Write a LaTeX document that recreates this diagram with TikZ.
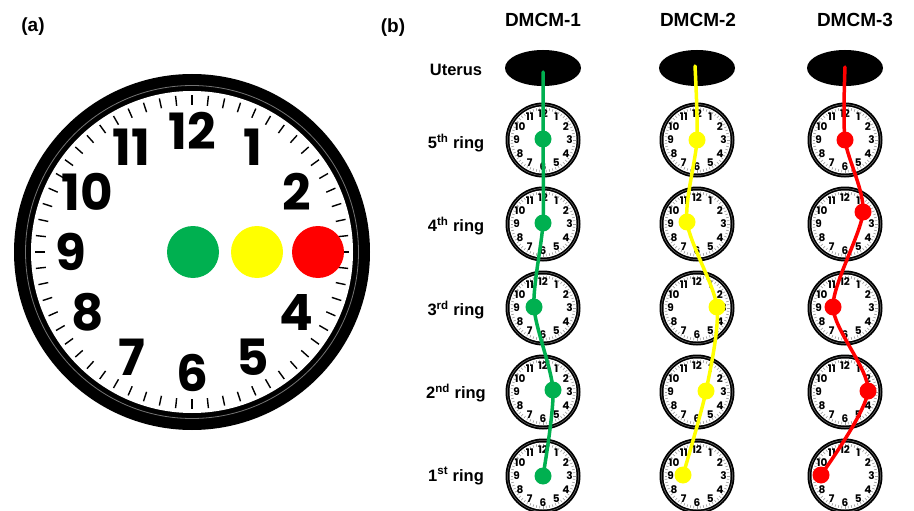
\documentclass[tikz,border=0pt]{standalone}
\usepackage{fontspec}
\setmainfont{Liberation Sans}
\newfontfamily\dialfont{Poppins}
\usetikzlibrary{shapes.geometric}
\definecolor{dmgreen}{HTML}{00B050}
\definecolor{dmyellow}{HTML}{FFFF00}
\definecolor{dmred}{HTML}{FF0000}
\tikzset{
  panel/.style={font=\bfseries\fontsize{19}{19}\selectfont, inner sep=0},
  head/.style={font=\bfseries\fontsize{19}{19}\selectfont, inner sep=0},
  rowlabel/.style={font=\bfseries\fontsize{16.5}{16.5}\selectfont, inner sep=0},
  bignum/.style={font=\dialfont\bfseries\fontsize{50}{50}\selectfont, inner sep=0},
  smallnum/.style={font=\dialfont\bfseries\fontsize{10.5}{10.5}\selectfont, inner sep=0},
  bigdot/.style={circle, inner sep=0, minimum size=52},
  dot/.style={circle, inner sep=0, minimum size=17},
  uterus/.style={ellipse, fill=black, inner sep=0, minimum width=76, minimum height=36},
  track/.style={line width=3.5, line cap=round},
  smallclock/.pic={
    \fill[black] (0,0) circle (37.5);
    \draw[black!55, line width=0.5] (0,0) circle (35.5);
    \fill[white] (0,0) circle (33.5);
    \foreach \a in {0,6,...,354}
      \draw[gray!80, line width=0.6] (\a:29.8) -- (\a:32.5);
    \foreach \n in {1,...,12}
      \node[smallnum] (n\n) at ({30*\n-90}:26.5) {\n};
  }
}
\begin{document}
\begin{tikzpicture}[x=1pt,y=-1pt]
\useasboundingbox[fill=white] (0,0) rectangle (914,511);

% ---------- (a) large dial ----------
\node[panel] (la) at (33,27) {(a)};
\coordinate (bc) at (192,252);
\fill[black] (bc) circle (178);
\draw[black!55, line width=0.8] (bc) circle (166.5);
\fill[white] (bc) circle (161);
\foreach \a in {0,6,...,354}
  \draw[line width=1.4] ([shift={(\a:147)}]bc) -- ([shift={(\a:157)}]bc);
\foreach \n in {1,2,4,5,6,7,8,9,10,11,12}
  \node[bignum] (bn\n) at ([shift={({30*\n-90}:121)}]bc) {\n};
\node[bigdot, fill=dmgreen]  (ga) at (193,252) {};
\node[bigdot, fill=dmyellow] (ya) at (257,252) {};
\node[bigdot, fill=dmred]    (ra) at (318,252) {};

% ---------- (b) ring sequence ----------
\node[panel] (lb) at (393,28) {(b)};
\node[head] (h1) at (543,20) {DMCM-1};
\node[head] (h2) at (698,20) {DMCM-2};
\node[head] (h3) at (855,20) {DMCM-3};

\node[rowlabel] (lu) at (456,70) {Uterus};
\node[rowlabel] (l5) at (456,143) {5\textsuperscript{th} ring};
\node[rowlabel] (l4) at (456,226) {4\textsuperscript{th} ring};
\node[rowlabel] (l3) at (456,310) {3\textsuperscript{rd} ring};
\node[rowlabel] (l2) at (456,393) {2\textsuperscript{nd} ring};
\node[rowlabel] (l1) at (456,476) {1\textsuperscript{st} ring};

\node[uterus] (e1) at (543,68) {};
\node[uterus] (e2) at (697,68) {};
\node[uterus] (e3) at (845,68) {};

\foreach \c/\x in {1/543,2/697,3/845}
  \foreach \r/\y in {5/140,4/224,3/308,2/392,1/476}
    \pic (c\c\r) at (\x,\y) {smallclock};

% track start points inside each uterus
\coordinate (s1) at (543,72);
\coordinate (s2) at (695,66);
\coordinate (s3) at (845,67);

% dot positions
\coordinate (g5) at (543,139);
\coordinate (g4) at (543,223);
\coordinate (g3) at (534,307);
\coordinate (g2) at (553,390);
\coordinate (g1) at (543,476);

\coordinate (y5) at (697,140);
\coordinate (y4) at (687,222);
\coordinate (y3) at (717,307);
\coordinate (y2) at (706,391);
\coordinate (y1) at (683,475);

\coordinate (r5) at (845,140);
\coordinate (r4) at (863,212);
\coordinate (r3) at (833,307);
\coordinate (r2) at (868,391);
\coordinate (r1) at (821,475);

\draw[track, dmgreen]  plot[smooth, tension=0.45] coordinates {(s1) (g5) (g4) (g3) (g2) (g1)};
\draw[track, dmyellow] plot[smooth, tension=0.45] coordinates {(s2) (y5) (y4) (y3) (y2) (y1)};
\draw[track, dmred]    plot[smooth, tension=0.45] coordinates {(s3) (r5) (r4) (r3) (r2) (r1)};

\foreach \r in {1,...,5} {
  \node[dot, fill=dmgreen]  (dg\r) at (g\r) {};
  \node[dot, fill=dmyellow] (dy\r) at (y\r) {};
  \node[dot, fill=dmred]    (dr\r) at (r\r) {};
}
\end{tikzpicture}
\end{document}
